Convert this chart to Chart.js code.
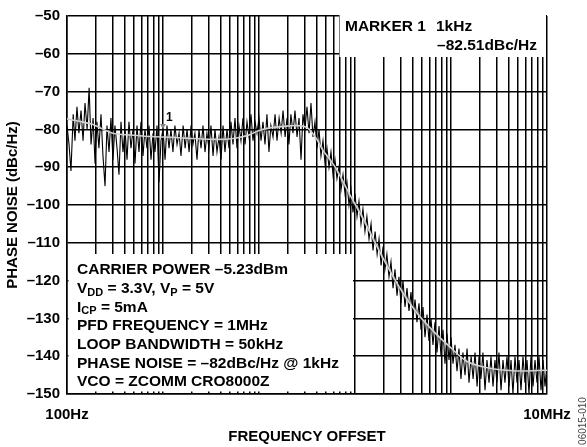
<!DOCTYPE html>
<html>
<head>
<meta charset="utf-8">
<script src="https://cdn.jsdelivr.net/npm/chart.js@4.4.1/dist/chart.umd.min.js"></script>
<style>
  html, body { margin: 0; padding: 0; background: #fff; }
  canvas { display: block; }
</style>
</head>
<body>
<canvas id="noiseChart" width="587" height="447"></canvas>
<script>
// sweep points: decade start times the steps inside each decade
let decades = [100, 1000, 10000, 100000, 1000000];
let decadeSteps = [1.00, 1.05, 1.10, 1.155, 1.21, 1.27, 1.33, 1.40, 1.47, 1.54, 1.62, 1.70, 1.78, 1.87, 1.96, 2.05,
  2.15, 2.26, 2.37, 2.49, 2.61, 2.74, 2.87, 3.01, 3.16, 3.32, 3.48, 3.65, 3.83, 4.02, 4.22, 4.42,
  4.64, 4.87, 5.11, 5.36, 5.62, 5.90, 6.19, 6.49, 6.81, 7.15, 7.50, 7.87, 8.25, 8.66, 9.09, 9.53];

// raw analyzer trace (dBc/Hz), one list per decade
let noise100Hz = [-79, -84, -91, -76, -83, -74, -81, -75, -83, -73, -80, -69, -84, -77, -89, -78,
  -85, -76, -87, -95, -79, -86, -77, -88, -79, -85, -92, -78, -86, -80, -88, -78,
  -85, -80, -89, -79, -86, -78, -87, -80, -85, -79, -88, -81, -86, -79, -94, -83];
let noise1kHz = [-80, -88, -79, -85, -80, -86, -79, -84, -81, -87, -79, -85, -80, -86, -79, -84,
  -81, -88, -80, -85, -79, -86, -81, -85, -79, -87, -80, -86, -82, -88, -79, -86,
  -80, -85, -78, -84, -77, -85, -79, -83, -77, -84, -78, -82, -76, -83, -78, -81];
let noise10kHz = [-77, -83, -78, -84, -76, -86, -79, -82, -76, -83, -77, -81, -75, -82, -77, -84,
  -76, -81, -75, -82, -77, -88, -76, -80, -74, -81, -73, -82, -78, -85, -80, -87,
  -83, -89, -85, -90, -86, -92, -88, -93, -90, -96, -92, -97, -94, -100, -96, -102];
let noise100kHz = [-97, -103, -99, -105, -101, -107, -103, -109, -105, -112, -107, -113, -109, -116, -111, -117,
  -113, -119, -115, -122, -117, -124, -119, -126, -120, -127, -122, -128, -123, -130, -125, -131,
  -126, -133, -127, -135, -129, -136, -130, -137, -131, -139, -132, -140, -133, -142, -134, -141];
let noise1MHz = [-135, -142, -137, -144, -138, -146, -139, -145, -138, -147, -140, -146, -139, -148, -140, -146,
  -139, -149, -141, -147, -140, -148, -141, -147, -139, -149, -141, -147, -140, -148, -141, -150,
  -140, -147, -141, -149, -140, -147, -141, -150, -140, -148, -141, -147, -140, -149, -141, -148];
let noiseAt10MHz = -142;

// averaged trace (light line)
let smoothFreqs = [100, 130, 180, 250, 300, 450, 650, 1000, 1500, 2000, 3000, 4500, 6000, 8000, 10000, 13000,
  18000, 25000, 32000, 40000, 46000, 55000, 65000, 88000, 120000, 143000, 195000, 294000, 440000, 650000,
  980000, 1470000, 2550000, 4900000, 10000000];
let smoothLevels = [-77.2, -77.8, -78.6, -80.2, -81.0, -81.5, -81.8, -82.0, -82.2, -82.4, -82.6, -82.6, -82.2, -81.4, -80.3, -79.6,
  -79.2, -79.0, -79.6, -82.6, -85.4, -88.0, -90.8, -97.2, -103.4, -107.2, -114.0, -122.0, -128.5, -133.3,
  -137.6, -141.4, -143.2, -143.9, -143.7];

let markerFreq = 1000;
let markerLevel = -82.51;

// axis ticks
let gridDecades = [100, 1000, 10000, 100000, 1000000];
let gridMults = [1, 2, 3, 4, 5, 6, 7, 8, 9];
let xLabelValues = [100, 10000000];
let xLabelTexts = ['100Hz', '10MHz'];
let yMin = -150, yMax = -50, yStep = 10;

let FONT = 'Arial, "Liberation Sans", sans-serif';
Chart.defaults.font.family = FONT;
Chart.defaults.font.size = 15;
Chart.defaults.font.weight = 'bold';
Chart.defaults.color = '#000';

let noiseFreqs = [];
decades.forEach(d => decadeSteps.forEach(m => noiseFreqs.push(Math.round(d * m))));
noiseFreqs.push(10000000);
let noiseLevels = [].concat(noise100Hz, noise1kHz, noise10kHz, noise100kHz, noise1MHz, [noiseAt10MHz]);

let gridFreqs = [];
gridDecades.forEach(d => gridMults.forEach(m => gridFreqs.push(d * m)));
gridFreqs.push(10000000);

function dash(v) {
  return v < 0 ? '\u2013' + Math.abs(v) : String(v);
}

// draws a line of text with subscript pieces: [text, isSub]
function drawRuns(ctx, x, y, runs) {
  runs.forEach(r => {
    ctx.font = r[1] ? 'bold 11px ' + FONT : 'bold 15.5px ' + FONT;
    ctx.fillText(r[0], x, r[1] ? y + 4 : y);
    x += ctx.measureText(r[0]).width;
  });
}

let panels = {
  id: 'panels',
  beforeDatasetsDraw(chart) {
    let ctx = chart.ctx;
    ctx.save();
    ctx.fillStyle = '#fff';
    ctx.fillRect(339.5, 12.5, 206.5, 44.5);
    ctx.fillRect(68.5, 254, 284.5, 137.5);
    ctx.restore();
  },
  afterDraw(chart) {
    let ctx = chart.ctx;
    let xs = chart.scales.x, ys = chart.scales.y;
    ctx.save();
    ctx.fillStyle = '#000';
    ctx.textBaseline = 'middle';
    ctx.textAlign = 'left';

    // marker
    let mx = xs.getPixelForValue(markerFreq);
    let my = ys.getPixelForValue(markerLevel) - 12;
    ctx.fillStyle = '#888';
    ctx.beginPath();
    ctx.moveTo(mx - 3, my - 3);
    ctx.lineTo(mx + 3, my - 3);
    ctx.lineTo(mx, my + 2);
    ctx.closePath();
    ctx.fill();
    ctx.fillStyle = '#000';
    ctx.font = 'bold 12px ' + FONT;
    ctx.fillText('1', mx + 3, my - 9);

    ctx.font = 'bold 15.5px ' + FONT;
    ctx.fillText('MARKER 1', 345, 27);
    ctx.fillText('1kHz', 436, 27);
    ctx.textAlign = 'right';
    ctx.fillText('\u201382.51dBc/Hz', 537, 46);
    ctx.textAlign = 'left';

    let lx = 77, ly = 270, lh = 18.7;
    drawRuns(ctx, lx, ly, [['CARRIER POWER \u20135.23dBm', false]]);
    drawRuns(ctx, lx, ly + lh, [['V', false], ['DD', true], [' = 3.3V, V', false], ['P', true], [' = 5V', false]]);
    drawRuns(ctx, lx, ly + lh * 2, [['I', false], ['CP', true], [' = 5mA', false]]);
    drawRuns(ctx, lx, ly + lh * 3, [['PFD FREQUENCY = 1MHz', false]]);
    drawRuns(ctx, lx, ly + lh * 4, [['LOOP BANDWIDTH = 50kHz', false]]);
    drawRuns(ctx, lx, ly + lh * 5, [['PHASE NOISE = \u201382dBc/Hz @ 1kHz', false]]);
    drawRuns(ctx, lx, ly + lh * 6, [['VCO = ZCOMM CRO8000Z', false]]);

    // figure number
    ctx.translate(583, 421);
    ctx.rotate(-Math.PI / 2);
    ctx.textAlign = 'center';
    ctx.fillStyle = '#444';
    ctx.font = '10px ' + FONT;
    ctx.fillText('06015-010', 0, 0);
    ctx.restore();
  }
};

new Chart(document.getElementById('noiseChart').getContext('2d'), {
  type: 'line',
  data: {
    datasets: [
      {
        label: 'Average',
        data: smoothFreqs.map((f, i) => ({x: f, y: smoothLevels[i]})),
        borderColor: '#d0d0d0',
        borderWidth: 1.6,
        pointRadius: 0,
        tension: 0.3,
        order: 0
      },
      {
        label: 'Phase noise',
        data: noiseFreqs.map((f, i) => ({x: f, y: noiseLevels[i]})),
        borderColor: '#000',
        borderWidth: 1.1,
        pointRadius: 0,
        tension: 0,
        order: 1
      }
    ]
  },
  options: {
    responsive: false,
    animation: false,
    devicePixelRatio: 1,
    layout: {padding: {top: 11, right: 40, bottom: 0, left: 0}},
    plugins: {legend: {display: false}, tooltip: {enabled: false}},
    scales: {
      x: {
        type: 'logarithmic',
        min: 100,
        max: 10000000,
        afterFit(s) { s.height = 53; },
        afterBuildTicks(s) { s.ticks = gridFreqs.map(v => ({value: v})); },
        ticks: {
          autoSkip: false,
          maxRotation: 0,
          padding: 12,
          callback(v) {
            let i = xLabelValues.indexOf(v);
            return i < 0 ? '' : xLabelTexts[i];
          }
        },
        grid: {color: '#000', lineWidth: 1.5, drawTicks: false},
        border: {color: '#000', width: 1.5},
        title: {display: true, text: 'FREQUENCY OFFSET', padding: {top: 0, bottom: 1}}
      },
      y: {
        min: yMin,
        max: yMax,
        afterFit(s) { s.width = 67; },
        ticks: {stepSize: yStep, padding: 7, callback: v => dash(v)},
        grid: {color: '#000', lineWidth: 1.5, drawTicks: false},
        border: {color: '#000', width: 1.5},
        title: {display: true, text: 'PHASE NOISE (dBc/Hz)', padding: {top: 4, bottom: 0}}
      }
    }
  },
  plugins: [panels]
});
</script>
</body>
</html>
